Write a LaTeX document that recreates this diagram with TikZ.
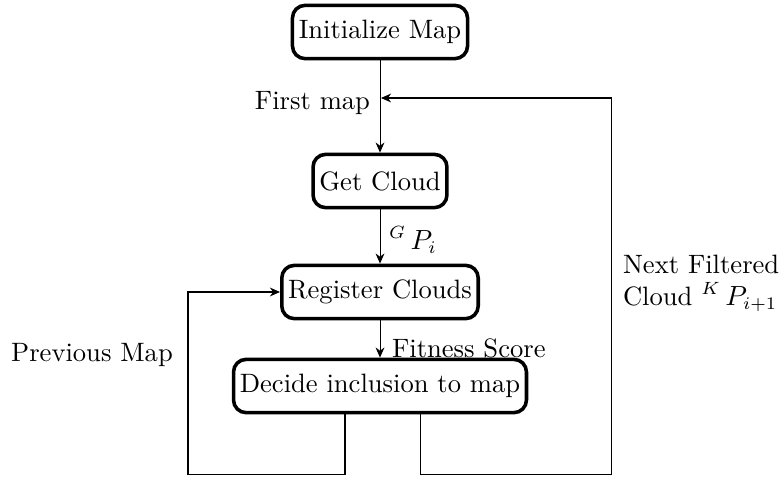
\documentclass[tikz,border=0pt]{standalone}
\usetikzlibrary{arrows.meta,calc}
\begin{document}
\begin{tikzpicture}[x=0.01389cm,y=-0.01389cm,
  every node/.style={font=\fontsize{10.5}{12.6}\selectfont},
  box/.style={draw,line width=1.4pt,rounded corners=5pt,minimum height=0.74cm,inner xsep=2.5pt},
  link/.style={line width=0.4pt,-{Stealth[length=4pt,width=3.5pt]}},
  lab/.style={inner sep=1pt}]
\useasboundingbox (0,0) rectangle (780,480);

% process steps
\node[box] (init) at (380,32) {Initialize Map};
\node[box] (get) at (380,181) {Get Cloud};
\node[box] (reg) at (380,292) {Register Clouds};
\node[box] (dec) at (380,386) {Decide inclusion to map};

% main chain
\draw[link] (init) -- (get);
\draw[link] (get) -- (reg);
\draw[link] (reg) -- (dec);

% feedback loops
\coordinate (rb) at (611,474);
\coordinate (lb) at (188,474);
\coordinate (entry) at (381,98);
\draw[link] ($(dec.south)+(40,0)$) |- (rb) |- (entry);
\draw[link] ($(dec.south)+(-35,0)$) |- (lb) |- (reg.west);

% labels
\node[lab,anchor=east] (lfirst) at (373,103) {First map};
\node[lab,anchor=west] (lgp) at (386,240) {$^{G}\,P_i$};
\node[lab,anchor=west] (lfit) at (389,348) {Fitness Score};
\node[lab] (lprev) at (92,355) {Previous Map};
\node[lab,anchor=west,align=left] (lnext) at (620,283) {Next Filtered\\Cloud $^{K}\,P_{i+1}$};
\end{tikzpicture}
\end{document}
